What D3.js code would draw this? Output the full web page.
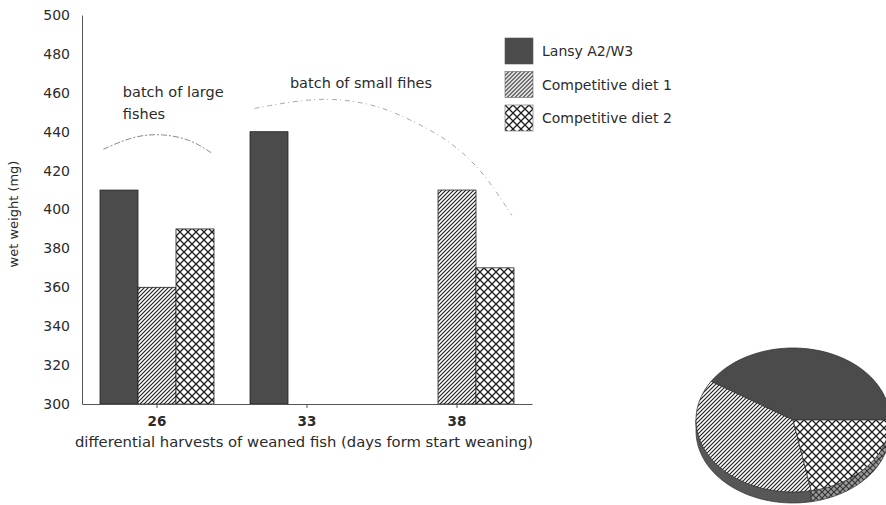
<!doctype html>
<html>
  <head>
    <meta charset="utf-8">
    <title>Wet weight of weaned fish</title>
    <script src="https://cdnjs.cloudflare.com/ajax/libs/d3/7.8.5/d3.min.js"></script>
    <style>
      body { margin: 0; background: #fff; }
      text { font-family: "DejaVu Sans", sans-serif; fill: #2b2b2b; }
    </style>
  </head>
  <body>
    <div id="chart"></div>
    <script>
      // data
      const days = ['26', '33', '38'];
      const series = ['Lansy A2/W3', 'Competitive diet 1', 'Competitive diet 2'];
      const lansy = [410, 440, null];
      const diet1 = [360, null, 410];
      const diet2 = [390, null, 370];
      const yTicks = [300, 320, 340, 360, 380, 400, 420, 440, 460, 480, 500];
      const pieShares = [41, 37, 22];   // Lansy, diet 1, diet 2

      const fills = ['#4b4b4b', 'url(#hatch)', 'url(#cross)'];

      const svg = d3.select('#chart').append('svg')
        .attr('width', 886)
        .attr('height', 505);

      // patterns
      const defs = svg.append('defs');
      defs.append('pattern')
        .attr('id', 'hatch').attr('patternUnits', 'userSpaceOnUse')
        .attr('width', 4).attr('height', 4)
        .call(p => p.append('rect').attr('width', 4).attr('height', 4).attr('fill', '#fff'))
        .append('path')
        .attr('d', 'M-1,1 l2,-2 M0,4 l4,-4 M3,5 l2,-2')
        .attr('stroke', '#1e1e1e').attr('stroke-width', 1.15);
      defs.append('pattern')
        .attr('id', 'cross').attr('patternUnits', 'userSpaceOnUse')
        .attr('width', 8).attr('height', 8)
        .call(p => p.append('rect').attr('width', 8).attr('height', 8).attr('fill', '#fff'))
        .append('path')
        .attr('d', 'M0,0 L8,8 M8,0 L0,8')
        .attr('stroke', '#1e1e1e').attr('stroke-width', 1.3);
      defs.append('pattern')
        .attr('id', 'crossDark').attr('patternUnits', 'userSpaceOnUse')
        .attr('width', 6).attr('height', 6)
        .call(p => p.append('rect').attr('width', 6).attr('height', 6).attr('fill', '#9a9a9a'))
        .append('path')
        .attr('d', 'M0,0 L6,6 M6,0 L0,6')
        .attr('stroke', '#333').attr('stroke-width', 1.2);

      // scales
      const x0 = d3.scaleBand().domain(days).range([82, 532])
        .paddingInner(0.24).paddingOuter(0.12);
      const x1 = d3.scaleBand().domain(series).range([0, x0.bandwidth()]);
      const y = d3.scaleLinear().domain([300, 500]).range([404, 15]);

      const rows = days.map((d, i) => ({
        day: d,
        values: [lansy[i], diet1[i], diet2[i]]
      }));

      // bars
      svg.append('g')
        .selectAll('g')
        .data(rows)
        .join('g')
        .attr('transform', d => `translate(${x0(d.day)},0)`)
        .selectAll('rect')
        .data(d => d.values.map((v, k) => ({ k: k, v: v })).filter(e => e.v != null))
        .join('rect')
        .attr('x', e => x1(series[e.k]))
        .attr('y', e => y(e.v))
        .attr('width', x1.bandwidth())
        .attr('height', e => y(300) - y(e.v))
        .attr('fill', e => fills[e.k])
        .attr('stroke', '#222')
        .attr('stroke-width', 0.8);

      // y axis
      const yAxis = svg.append('g')
        .attr('transform', 'translate(82,0)')
        .call(d3.axisLeft(y).tickValues(yTicks).tickSize(0).tickPadding(12));
      yAxis.select('.domain').attr('stroke', '#555');
      yAxis.selectAll('text').style('font-size', '14px').attr('fill', '#2b2b2b');

      // x axis
      const xAxis = svg.append('g')
        .attr('transform', 'translate(0,404)')
        .call(d3.axisBottom(x0).tickSize(4).tickSizeOuter(0).tickPadding(8));
      xAxis.select('.domain').attr('stroke', '#555');
      xAxis.selectAll('line').attr('stroke', '#555');
      xAxis.selectAll('text').style('font-size', '13.5px').style('font-weight', 'bold').attr('fill', '#2b2b2b');

      // axis titles
      svg.append('text')
        .attr('x', 304).attr('y', 447)
        .attr('text-anchor', 'middle')
        .style('font-size', '14.8px')
        .text('differential harvests of weaned fish (days form start weaning)');

      svg.append('text')
        .attr('transform', 'translate(18,214) rotate(-90)')
        .attr('text-anchor', 'middle')
        .style('font-size', '13px')
        .text('wet weight (mg)');

      // batch annotations
      const px = (day, f) => x0(day) + f * x0.bandwidth();
      svg.append('text').attr('x', px('26', 0.2)).attr('y', y(458))
        .style('font-size', '14.5px').text('batch of large');
      svg.append('text').attr('x', px('26', 0.2)).attr('y', y(446.5))
        .style('font-size', '14.5px').text('fishes');
      svg.append('text').attr('x', px('33', 0.35)).attr('y', y(462.5))
        .style('font-size', '14.5px').text('batch of small fihes');

      const bracketLarge = [['26', 0.03, 431], ['26', 0.3, 438], ['26', 0.55, 439], ['26', 0.8, 436], ['26', 0.98, 429]];
      const bracketSmall = [['33', 0.04, 452], ['33', 0.6, 458], ['38', -0.3, 455], ['38', -0.04, 450],
                            ['38', 0.44, 436], ['38', 0.75, 418], ['38', 0.98, 397]];
      const curve = d3.line().x(d => px(d[0], d[1])).y(d => y(d[2])).curve(d3.curveBasis);
      svg.append('path').attr('d', curve(bracketLarge))
        .attr('fill', 'none').attr('stroke', '#888').attr('stroke-width', 1)
        .attr('stroke-dasharray', '6,2,2,2');
      svg.append('path').attr('d', curve(bracketSmall))
        .attr('fill', 'none').attr('stroke', '#aaa').attr('stroke-width', 1)
        .attr('stroke-dasharray', '5,3,1,4');

      // legend
      const legend = svg.append('g')
        .selectAll('g')
        .data(series)
        .join('g')
        .attr('transform', (d, i) => `translate(505,${38 + i * 33.5})`);
      legend.append('rect')
        .attr('width', 28).attr('height', 26)
        .attr('fill', (d, i) => fills[i])
        .attr('stroke', (d, i) => i === 0 ? '#555' : '#666')
        .attr('stroke-width', 0.6);
      legend.append('text')
        .attr('x', 37).attr('y', 18)
        .style('font-size', '14px')
        .text(d => d);

      // 3d pie, drawn counter-clockwise from the right
      const cx = 793, cy = 420, rx = 97, ry = 72, depth = 11;
      const arcs = d3.pie().sort(null)
        .startAngle(Math.PI / 2).endAngle(Math.PI / 2 - 2 * Math.PI)(pieShares);
      const ex = a => cx + rx * Math.sin(a);
      const ey = a => cy - ry * Math.cos(a);
      const steps = (a0, a1) => d3.range(41).map(i => a0 + (a1 - a0) * i / 40);

      const sideFills = ['#4b4b4b', '#575757', 'url(#crossDark)'];
      const sides = svg.append('g');
      arcs.forEach((a, i) => {
        let lo = Math.min(a.startAngle, a.endAngle);
        let hi = Math.max(a.startAngle, a.endAngle);
        while (lo < 0) { lo += 2 * Math.PI; hi += 2 * Math.PI; }
        [[Math.PI / 2, 3 * Math.PI / 2], [5 * Math.PI / 2, 7 * Math.PI / 2]].forEach(w => {
          const s = Math.max(lo, w[0]), e = Math.min(hi, w[1]);
          if (e - s < 1e-3) return;
          const top = steps(s, e).map(t => [ex(t), ey(t)]);
          const bottom = steps(e, s).map(t => [ex(t), ey(t) + depth]);
          sides.append('path')
            .attr('d', d3.line()(top.concat(bottom)) + 'Z')
            .attr('fill', sideFills[i])
            .attr('stroke', '#333').attr('stroke-width', 0.7);
        });
      });

      svg.append('g')
        .selectAll('path')
        .data(arcs)
        .join('path')
        .attr('d', a => d3.line()([[cx, cy]].concat(steps(a.startAngle, a.endAngle).map(t => [ex(t), ey(t)]))) + 'Z')
        .attr('fill', (a, i) => fills[i])
        .attr('stroke', '#333')
        .attr('stroke-width', 0.8)
        .attr('stroke-linejoin', 'round');
    </script>
  </body>
</html>
